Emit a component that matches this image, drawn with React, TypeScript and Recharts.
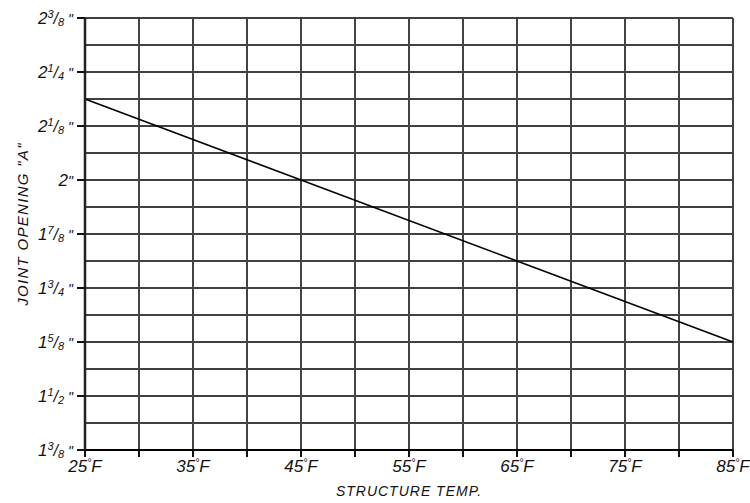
import { CartesianGrid, Line, LineChart, XAxis, YAxis } from "recharts";

const temps = [25, 45, 65, 85];
const openings = [2.1875, 2.0, 1.8125, 1.625];

const xTicks = [25, 30, 35, 40, 45, 50, 55, 60, 65, 70, 75, 80, 85];
const xTickLabels = ["25", "", "35", "", "45", "", "55", "", "65", "", "75", "", "85"];

const yTicks = [
  1.375, 1.4375, 1.5, 1.5625, 1.625, 1.6875, 1.75, 1.8125, 1.875, 1.9375, 2.0, 2.0625, 2.125,
  2.1875, 2.25, 2.3125, 2.375,
];
// whole|numerator|denominator, empty string for the unlabelled sixteenth lines
const yTickLabels = [
  "1|3|8", "", "1|1|2", "", "1|5|8", "", "1|3|4", "", "1|7|8", "", "2||", "", "2|1|8", "",
  "2|1|4", "", "2|3|8",
];

const chartData = temps.map((t, i) => ({ temp: t, opening: openings[i] }));

const FONT = "'Liberation Sans', sans-serif";
const INK = "#111";

const YTick = (props: any) => {
  const { x, y, index } = props;
  const label = yTickLabels[index];
  if (!label) return null;
  const [whole, num, den] = label.split("|");
  return (
    <g>
      <line x1={x + 4} x2={x + 12} y1={y} y2={y} stroke={INK} strokeWidth={2} />
      <text
        x={x}
        y={y}
        dy={6}
        textAnchor="end"
        fontFamily={FONT}
        fontStyle="italic"
        fill={INK}
        fontSize={17}
      >
        <tspan>{whole}</tspan>
        {num ? (
          <>
            <tspan fontSize={11} dy={-6}>{num}</tspan>
            <tspan fontSize={16} dy={6}>/</tspan>
            <tspan fontSize={11} dy={2}>{den}</tspan>
            <tspan fontSize={14} dy={-2}>{" \u0022"}</tspan>
          </>
        ) : (
          <tspan fontSize={14}>{"\u0022"}</tspan>
        )}
      </text>
    </g>
  );
};

const XTick = (props: any) => {
  const { x, y, index } = props;
  const label = xTickLabels[index];
  return (
    <g>
      <line x1={x} x2={x} y1={y - 2} y2={y - 9} stroke={INK} strokeWidth={2} />
      {label ? (
        <text
          x={x}
          y={y}
          dy={13}
          textAnchor="middle"
          fontFamily={FONT}
          fontStyle="italic"
          fill={INK}
          fontSize={17}
        >
          {label}
          <tspan fontSize={10} dy={-6}>{"\u00b0"}</tspan>
          <tspan dy={6}>F</tspan>
        </text>
      ) : null}
    </g>
  );
};

const YTitle = () => (
  <text
    x={28}
    y={224}
    transform="rotate(-90 28 224)"
    textAnchor="middle"
    fontFamily={FONT}
    fontStyle="italic"
    fontSize={15}
    letterSpacing={1.3}
    fill={INK}
  >
    JOINT OPENING &quot;A&quot;
  </text>
);

export default function App() {
  return (
    <div style={{ position: "absolute", left: 0, top: 0, background: "#fff" }}>
      <LineChart
        width={750}
        height={503}
        data={chartData}
        margin={{ top: 18, right: 17, bottom: 0, left: 0 }}
      >
        <CartesianGrid vertical={false} stroke="#000" strokeWidth={1.5} strokeOpacity={1} />
        <CartesianGrid horizontal={false} stroke="#444" strokeWidth={2} strokeOpacity={1} />
        <XAxis
          dataKey="temp"
          type="number"
          domain={[25, 85]}
          ticks={xTicks}
          interval={0}
          height={53}
          tickSize={7}
          tickMargin={2}
          tickLine={false}
          axisLine={{ stroke: "#000", strokeWidth: 2 }}
          tick={<XTick />}
          label={{
            value: "STRUCTURE  TEMP.",
            position: "insideBottom",
            offset: 7,
            style: {
              fontFamily: FONT,
              fontStyle: "italic",
              fontSize: 14,
              fill: INK,
              letterSpacing: 1,
              whiteSpace: "pre",
            },
          }}
        />
        <YAxis
          dataKey="opening"
          type="number"
          domain={[1.375, 2.375]}
          ticks={yTicks}
          interval={0}
          width={85}
          tickSize={8}
          tickMargin={4}
          tickLine={false}
          axisLine={{ stroke: "#222", strokeWidth: 2.5 }}
          tick={<YTick />}
          label={<YTitle />}
        />
        <Line
          dataKey="opening"
          stroke="#000"
          strokeWidth={1.5}
          dot={false}
          isAnimationActive={false}
        />
      </LineChart>
    </div>
  );
}
